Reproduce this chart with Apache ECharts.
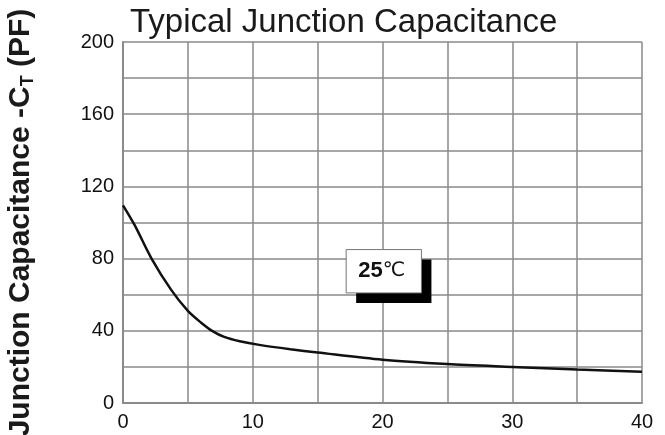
<!DOCTYPE html>
<html>
<head>
<meta charset="utf-8">
<script src="https://cdn.jsdelivr.net/npm/echarts@6/dist/echarts.min.js"></script>
<style>html,body{margin:0;padding:0;background:#fff;}#c{width:665px;height:435px;}</style>
</head>
<body>
<div id="c"></div>
<script>
var titleText = 'Typical Junction Capacitance';
var reverseVoltage = [0, 0.9, 2.2, 3.7, 5, 6.0, 6.9, 7.8, 9, 10.5, 12.9, 15, 20, 25, 30, 35, 40];
var capacitance = [109.5, 98.5, 80, 62.8, 51, 44.6, 39.8, 36.6, 34.2, 32.2, 29.8, 28.0, 24.0, 21.6, 20.0, 18.5, 17.3];
var xTickLabels = [0, 10, 20, 30, 40];
var yTickLabels = [0, 40, 80, 120, 160, 200];
var noteText = '25';
var noteBox = [[17.2, 85], [23.0, 61]];

var chart = echarts.init(document.getElementById('c'));
var pts = reverseVoltage.map(function (x, i) { return [x, capacitance[i]]; });
var font = '"Liberation Sans", Arial, sans-serif';
chart.setOption({
  animation: false,
  title: {
    text: titleText, left: 125, top: 1,
    textStyle: { fontFamily: font, fontSize: 33, fontWeight: 'normal', color: '#1a1a1a' }
  },
  grid: { left: 123, right: 23, top: 42, bottom: 32, outerBoundsMode: 'none', containLabel: false },
  xAxis: {
    type: 'value', min: 0, max: 40, interval: 5,
    axisLine: { show: true, lineStyle: { color: '#8a8a8a', width: 2 } },
    axisTick: { show: false },
    splitLine: { show: true, lineStyle: { color: '#8a8a8a', width: 1.5 } },
    axisLabel: {
      margin: 9, fontFamily: font, fontSize: 20, color: '#111',
      formatter: function (v) { return xTickLabels.indexOf(v) >= 0 ? String(v) : ''; }
    }
  },
  yAxis: {
    type: 'value', min: 0, max: 200, interval: 20,
    name: '{n|Junction Capacitance -C}{s|T}{n| (PF)}',
    nameLocation: 'middle', nameRotate: 90, nameGap: 86,
    nameTextStyle: {
      rich: {
        n: { fontFamily: font, fontSize: 30, fontWeight: 'bold', color: '#1a1a1a' },
        s: { fontFamily: font, fontSize: 18, fontWeight: 'bold', color: '#1a1a1a', verticalAlign: 'bottom', padding: [14, 0, 0, 0] }
      }
    },
    axisLine: { show: true, lineStyle: { color: '#8a8a8a', width: 2 } },
    axisTick: { show: false },
    splitLine: { show: true, lineStyle: { color: '#8a8a8a', width: 1.5 } },
    axisLabel: {
      margin: 9, fontFamily: font, fontSize: 20, color: '#111',
      formatter: function (v) { return yTickLabels.indexOf(v) >= 0 ? String(v) : ''; }
    }
  },
  series: [{
    type: 'line', data: pts, smooth: 0.3, symbol: 'none',
    lineStyle: { color: '#111', width: 2.5 }
  }]
});

var p1 = chart.convertToPixel({ gridIndex: 0 }, noteBox[0]);
var p2 = chart.convertToPixel({ gridIndex: 0 }, noteBox[1]);
var w = p2[0] - p1[0], h = p2[1] - p1[1];
chart.setOption({
  graphic: [
    { type: 'rect', shape: { x: p1[0] + 10, y: p1[1] + 10, width: w, height: h }, style: { fill: '#000' }, z: 100 },
    { type: 'rect', shape: { x: p1[0], y: p1[1], width: w, height: h }, style: { fill: '#fff', stroke: '#777', lineWidth: 1 }, z: 101 },
    { type: 'text', x: p1[0] + w / 2 - 2, y: p1[1] + h / 2, z: 102,
      style: {
        text: '{a|' + noteText + '}{b|℃}', align: 'center', verticalAlign: 'middle',
        rich: {
          a: { fontFamily: font, fontSize: 22, fontWeight: 'bold', fill: '#111' },
          b: { fontFamily: '"DejaVu Sans", sans-serif', fontSize: 20, fontWeight: 'normal', fill: '#111' }
        }
      }
    }
  ]
});
</script>
</body>
</html>
